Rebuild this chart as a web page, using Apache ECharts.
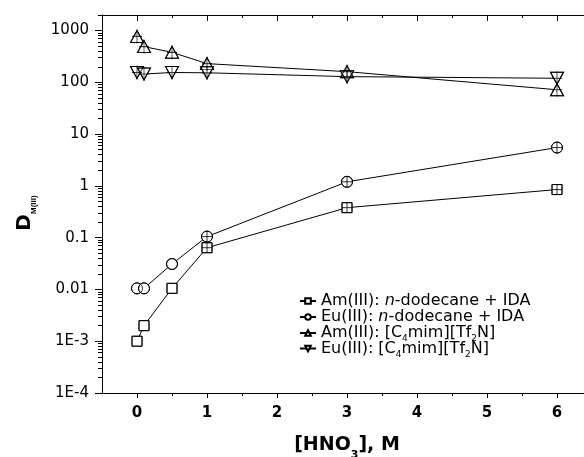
<!DOCTYPE html>
<html>
<head>
<meta charset="utf-8">
<script src="https://cdn.jsdelivr.net/npm/echarts@6/dist/echarts.min.js"></script>
<style>html,body{margin:0;padding:0;background:#fff}#c{width:584px;height:457px}</style>
</head>
<body>
<div id="c"></div>
<script>
// ---- data ----
const hno3 = [0, 0.1, 0.5, 1, 3, 6];
const amIDA = [0.001, 0.002, 0.0105, 0.064, 0.38, 0.85];
const euIDA = [0.0105, 0.0105, 0.031, 0.105, 1.2, 5.5];
const amIL = [770, 490, 380, 230, 161, 72];
const euIL = [155, 145, 155, 153, 129, 120];

const seriesNames = ['Am(III): n-dodecane + IDA', 'Eu(III): n-dodecane + IDA', 'Am(III): [C4mim][Tf2N]', 'Eu(III): [C4mim][Tf2N]'];
const legendLabels = ['Am(III): {i|n}-dodecane + IDA', 'Eu(III): {i|n}-dodecane + IDA', 'Am(III): [C{s|4}mim][Tf{s|2}N]', 'Eu(III): [C{s|4}mim][Tf{s|2}N]'];

const xTicks = [0, 1, 2, 3, 4, 5, 6];
const xMinorTicks = [0.5, 1.5, 2.5, 3.5, 4.5, 5.5];
const yTicks = [1e-4, 1e-3, 0.01, 0.1, 1, 10, 100, 1000];
const yTickLabels = ['1E-4', '1E-3', '0.01', '0.1', '1', '10', '100', '1000'];
const yMinorMultipliers = [2, 3, 4, 5, 6, 7, 8, 9];

// ---- build ----
const yMinorTicks = [];
yTicks.forEach(d => yMinorMultipliers.forEach(m => { if (d * m <= 2000) yMinorTicks.push(+(d * m).toPrecision(3)); }));

const pairs = arr => hno3.map((x, i) => [x, arr[i]]);
const FONT = 'DejaVu Sans';
const seriesData = [amIDA, euIDA, amIL, euIL];
const symbols = ['rect', 'circle', 'triangle', 'triangle'];
const sizes = [10, 11, [13, 12], [13, 12]];
const rotates = [0, 0, 0, 180];
const crossSizes = [10, 11, [10, 14], [10, 14]];
const crossFilter = [p => p[0] >= 1, p => p[0] >= 1, () => true, () => true];

const series = [];
seriesData.forEach((arr, k) => {
  series.push({
    name: seriesNames[k], type: 'line', data: pairs(arr), z: 2,
    symbol: symbols[k], symbolSize: sizes[k], symbolRotate: rotates[k], showAllSymbol: true,
    lineStyle: { color: '#000', width: 1 },
    itemStyle: { color: '#fff', borderColor: '#000', borderWidth: 1 },
    emphasis: { disabled: true }
  });
});
seriesData.forEach((arr, k) => {
  series.push({
    name: 'outline' + k, type: 'scatter', data: pairs(arr), z: 3,
    symbol: symbols[k], symbolSize: sizes[k], symbolRotate: rotates[k],
    itemStyle: { color: 'rgba(0,0,0,0)', borderColor: '#000', borderWidth: 1 },
    emphasis: { disabled: true }, silent: true
  });
  series.push({
    name: 'cross' + k, type: 'scatter', data: pairs(arr).filter(crossFilter[k]), z: 4,
    symbol: 'path://M5,0L5,10M0,5L10,5', symbolSize: crossSizes[k],
    itemStyle: { color: 'rgba(0,0,0,0)', borderColor: '#000', borderWidth: 1 },
    emphasis: { disabled: true }, silent: true
  });
});

const axisLineStyle = { show: true, onZero: false, lineStyle: { color: '#000', width: 1 } };
const noLine = { show: false, onZero: false };
const xBase = { type: 'value', min: -0.5, max: 6.5, gridIndex: 0, splitLine: { show: false } };
const yBase = { type: 'log', logBase: 10, min: 1e-4, max: 2000, gridIndex: 0, splitLine: { show: false } };

const legendText = {
  fontFamily: FONT, fontSize: 16, color: '#000', lineHeight: 16,
  rich: {
    i: { fontFamily: FONT, fontSize: 16, fontStyle: 'italic', color: '#000', lineHeight: 16 },
    s: { fontFamily: FONT, fontSize: 9, color: '#000', height: 4, lineHeight: 16, padding: [12, 0, 0, 0] }
  }
};
const legendBase = {
  orient: 'vertical', left: 299, itemWidth: 16, itemHeight: 7, padding: 0,
  formatter: n => legendLabels[seriesNames.indexOf(n)],
  textStyle: legendText, selectedMode: false
};

const option = {
  animation: false,
  backgroundColor: '#fff',
  grid: { left: 102, right: -8, top: 15, bottom: 64, containLabel: false, outerBoundsMode: 'none' },
  legend: [
    Object.assign({}, legendBase, { data: seriesNames.slice(0, 2), top: 293, itemGap: 0 }),
    Object.assign({}, legendBase, { data: seriesNames.slice(2, 4), top: 325, itemGap: -3 })
  ],
  xAxis: [
    Object.assign({}, xBase, {
      position: 'bottom', axisLine: axisLineStyle,
      axisTick: { show: true, inside: false, length: 5, customValues: xTicks, lineStyle: { color: '#000' } },
      axisLabel: { show: true, customValues: xTicks, margin: 13, fontFamily: FONT, fontWeight: 'bold', fontSize: 15, color: '#000' },
      name: '{m|[HNO}{s|3}{m|], M}', nameLocation: 'middle', nameGap: 41,
      nameTextStyle: { rich: {
        m: { fontFamily: FONT, fontWeight: 'bold', fontSize: 19, color: '#000', lineHeight: 22 },
        s: { fontFamily: FONT, fontWeight: 'bold', fontSize: 11, color: '#000', height: 2, lineHeight: 22, padding: [20, 0, 0, 0] }
      } }
    }),
    Object.assign({}, xBase, {
      position: 'bottom', axisLine: noLine,
      axisTick: { show: true, inside: false, length: 3, customValues: xMinorTicks, lineStyle: { color: '#000' } },
      axisLabel: { show: false }
    }),
    Object.assign({}, xBase, {
      position: 'top', axisLine: axisLineStyle,
      axisTick: { show: true, inside: true, length: 6, customValues: xTicks, lineStyle: { color: '#000' } },
      axisLabel: { show: false }
    }),
    Object.assign({}, xBase, {
      position: 'top', axisLine: noLine,
      axisTick: { show: true, inside: true, length: 3, customValues: xMinorTicks, lineStyle: { color: '#000' } },
      axisLabel: { show: false }
    })
  ],
  yAxis: [
    Object.assign({}, yBase, {
      position: 'left', axisLine: axisLineStyle,
      axisTick: { show: true, inside: false, length: 7, customValues: yTicks, lineStyle: { color: '#000' } },
      axisLabel: {
        show: true, customValues: yTicks, margin: 13, fontFamily: FONT, fontSize: 15, color: '#000',
        formatter: v => {
          let best = 0, bd = Infinity;
          yTicks.forEach((t, i) => { const d = Math.abs(Math.log10(v) - Math.log10(t)); if (d < bd) { bd = d; best = i; } });
          return yTickLabels[best];
        }
      },
      name: '{d|D}{s|M(III)}', nameLocation: 'middle', nameGap: 66, nameRotate: 90,
      nameTextStyle: {
        padding: [0, 18, 0, 0],
        rich: {
          d: { fontFamily: FONT, fontWeight: 'bold', fontSize: 20, color: '#000', lineHeight: 22 },
          s: { fontFamily: 'Liberation Sans', fontWeight: 'bold', fontSize: 8, color: '#000', height: 2, lineHeight: 22, padding: [18, 0, 0, 0] }
        }
      }
    }),
    Object.assign({}, yBase, {
      position: 'left', axisLine: noLine,
      axisTick: { show: true, inside: false, length: 4, customValues: yMinorTicks, lineStyle: { color: '#000' } },
      axisLabel: { show: false }
    })
  ],
  series: series
};

const chart = echarts.init(document.getElementById('c'), null, { renderer: 'canvas' });
chart.setOption(option);
</script>
</body>
</html>
